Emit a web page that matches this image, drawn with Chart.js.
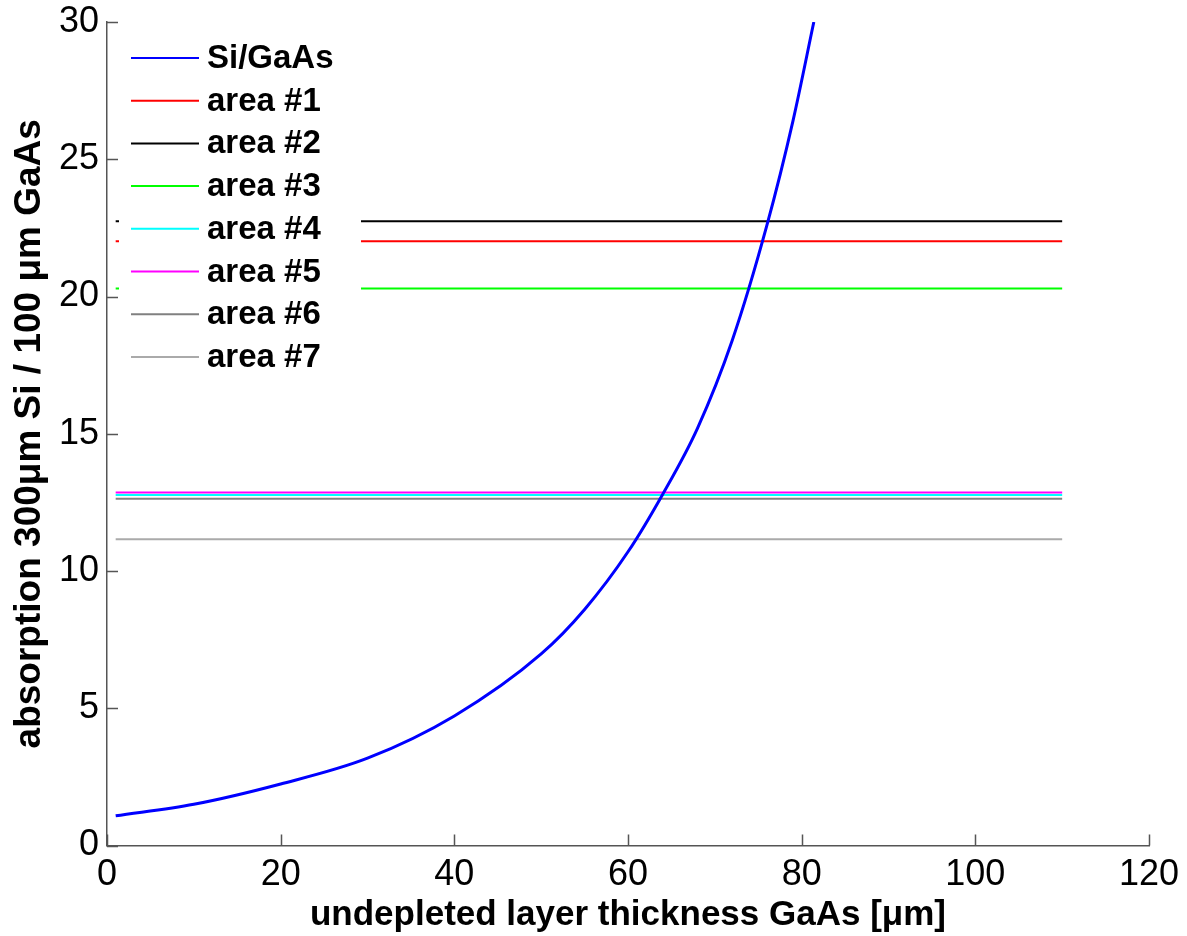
<!DOCTYPE html>
<html>
<head>
<meta charset="utf-8">
<script src="https://cdn.jsdelivr.net/npm/chart.js@4.4.0/dist/chart.umd.min.js"></script>
<style>
  body { margin: 0; background: #fff; }
  #wrap { width: 1187px; height: 936px; }
</style>
</head>
<body>
<div id="wrap"><canvas id="absChart" width="1187" height="936"></canvas></div>
<script>
// Si/GaAs absorption ratio vs. undepleted GaAs thickness
const thickness = [1, 10, 20, 30, 40, 50, 55, 60, 64, 68, 72, 76, 79, 81.4]
const ratio = [1.08, 1.50, 2.24, 3.18, 4.72, 6.98, 8.6, 10.7, 12.8, 15.2, 18.4, 22.6, 26.4, 30.0]

// measured area levels (constant over thickness)
const areaLabels = ['area #1', 'area #2', 'area #3', 'area #4', 'area #5', 'area #6', 'area #7']
const areaLevels = [22.01, 22.74, 20.29, 12.77, 12.86, 12.63, 11.16]
const areaColors = ['#ff0000', '#000000', '#00ff00', '#00ffff', '#ff00ff', '#808080', '#aaaaaa']
const areaRange = [1, 110]

const xTicks = [0, 20, 40, 60, 80, 100, 120]
const yTicks = [0, 5, 10, 15, 20, 25, 30]

const FONT = '"Liberation Sans", Arial, sans-serif'

const datasets = [
  {
    label: 'Si/GaAs',
    data: thickness.map((x, i) => ({ x: x, y: ratio[i] })),
    borderColor: '#0000ff',
    borderWidth: 3,
    cubicInterpolationMode: 'monotone',
  },
]
areaLabels.forEach((name, i) => {
  datasets.push({
    label: name,
    data: areaRange.map(x => ({ x: x, y: areaLevels[i] })),
    borderColor: areaColors[i],
    borderWidth: 2,
  })
})

// legend drawn inside the plot on a white box, no frame
const innerLegend = {
  id: 'innerLegend',
  afterDatasetsDraw(chart) {
    const ctx = chart.ctx
    const a = chart.chartArea
    const n = chart.data.datasets.length
    ctx.save()
    ctx.fillStyle = '#fff'
    ctx.fillRect(a.left + 12, a.top + 8, 242, 16 + n * 42.7)
    ctx.font = 'bold 33px ' + FONT
    ctx.textBaseline = 'middle'
    chart.data.datasets.forEach((ds, i) => {
      const y = a.top + 36 + i * 42.7
      ctx.strokeStyle = ds.borderColor
      ctx.lineWidth = 2
      ctx.beginPath()
      ctx.moveTo(a.left + 24, y)
      ctx.lineTo(a.left + 92, y)
      ctx.stroke()
      ctx.fillStyle = '#000'
      ctx.fillText(ds.label, a.left + 100, y + 1)
    })
    ctx.restore()
  },
}

// tick marks pointing into the plot
const innerTicks = {
  id: 'innerTicks',
  afterDraw(chart) {
    const ctx = chart.ctx
    const a = chart.chartArea
    const xs = chart.scales.x
    const ys = chart.scales.y
    ctx.save()
    ctx.strokeStyle = '#555'
    ctx.lineWidth = 1.5
    ctx.beginPath()
    xTicks.forEach(v => {
      const px = Math.round(xs.getPixelForValue(v)) + 0.5
      ctx.moveTo(px, a.bottom)
      ctx.lineTo(px, a.bottom - 11)
    })
    yTicks.forEach(v => {
      const py = Math.round(ys.getPixelForValue(v)) + 0.5
      ctx.moveTo(a.left, py)
      ctx.lineTo(a.left + 11, py)
    })
    ctx.stroke()
    ctx.restore()
  },
}

const config = {
  type: 'scatter',
  data: { datasets: datasets },
  options: {
    responsive: false,
    animation: false,
    showLine: true,
    elements: { point: { radius: 0 } },
    layout: { padding: { top: 22, right: 38, left: 0, bottom: 0 } },
    plugins: {
      legend: { display: false },
      tooltip: { enabled: false },
    },
    scales: {
      x: {
        min: 0,
        max: 120,
        afterBuildTicks: s => { s.ticks = xTicks.map(v => ({ value: v })) },
        afterFit: s => { s.height = 90.5; s.paddingLeft = 0; s.paddingRight = 0 },
        grid: { drawOnChartArea: false, drawTicks: false },
        border: { color: '#555', width: 1.5 },
        ticks: { color: '#000', padding: 8, font: { family: FONT, size: 36 } },
        title: {
          display: true,
          text: 'undepleted layer thickness GaAs [\u03bcm]',
          color: '#000',
          padding: { top: 0, bottom: 0 },
          font: { family: FONT, size: 35, weight: 'bold' },
        },
      },
      y: {
        min: 0,
        max: 30,
        afterBuildTicks: s => { s.ticks = yTicks.map(v => ({ value: v })) },
        afterFit: s => { s.width = 107; s.paddingTop = 0; s.paddingBottom = 0 },
        grid: { drawOnChartArea: false, drawTicks: false },
        border: { color: '#555', width: 1.5 },
        ticks: { color: '#000', padding: 8, font: { family: FONT, size: 36 } },
        title: {
          display: true,
          text: 'absorption 300\u03bcm Si / 100 \u03bcm GaAs',
          color: '#000',
          padding: { top: 8, bottom: 0 },
          font: { family: FONT, size: 37, weight: 'bold' },
        },
      },
    },
  },
  plugins: [innerLegend, innerTicks],
}

const myChart = new Chart(document.getElementById('absChart'), config)
</script>
</body>
</html>
